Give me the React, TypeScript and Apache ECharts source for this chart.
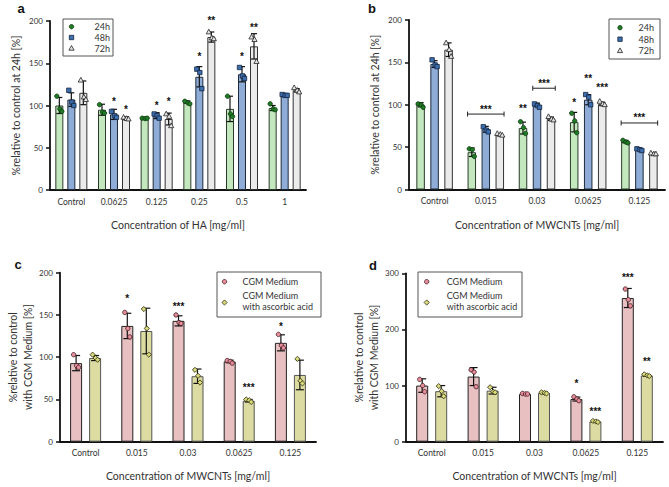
import React, { useEffect, useRef } from "react";
import * as echarts from "echarts";

// ---------- categories ----------
const catsA = ["Control", "0.0625", "0.125", "0.25", "0.5", "1"];
const catsB = ["Control", "0.015", "0.03", "0.0625", "0.125"];
const catsCD = ["Control", "0.015", "0.03", "0.0625", "0.125"];
const timeNames = ["24h", "48h", "72h"];
const mediumNames = ["CGM Medium", "CGM Medium with ascorbic acid"];

// ---------- panel a (HA) ----------
const a24Mean = [100, 95, 85, 104, 96, 97];
const a24Sd = [9.5, 6.5, 1, 1.5, 15, 3];
const a24Pts = [[111, 96, 93], [101, 92, 91], [85, 84.5, 85], [105, 103, 102], [111, 90, 87], [102, 96, 95]];
const a48Mean = [107, 89.5, 88, 134, 137, 112];
const a48Sd = [8, 6, 3.5, 12, 9, 1.5];
const a48Pts = [[118, 104, 100], [93, 88, 86], [90, 88, 85], [143, 139, 120], [145, 135, 132], [113, 112, 112]];
const a72Mean = [115, 85, 84, 181, 170, 118];
const a72Sd = [14, 1.5, 7, 6, 15, 2];
const a72Pts = [[130, 110, 107], [86, 84.5, 84], [90, 87, 76], [187, 180, 179], [181, 178, 152], [121, 118, 116]];
// [category, group, y, label]
const starsA: [number, number, number, string][] = [
  [1, 1, 108, "*"], [1, 2, 98.5, "*"],
  [2, 1, 102.5, "*"], [2, 2, 107.5, "*"],
  [3, 1, 161.5, "*"], [3, 2, 203, "**"],
  [4, 1, 161.5, "*"], [4, 2, 195.5, "**"],
];

// ---------- panel b (MWCNTs) ----------
const b24Mean = [100, 44, 72.5, 79.5, 56.5];
const b24Sd = [2.5, 5, 7, 11.5, 1.5];
const b24Pts = [[101, 100, 97], [48, 47, 39], [80, 73, 66], [90, 81, 67], [58, 56, 55]];
const b48Mean = [148, 71, 100, 106, 47.5];
const b48Sd = [4, 3.5, 2, 6, 1];
const b48Pts = [[153, 147, 145], [74, 70, 68], [101, 99, 97], [112, 109, 100], [48, 47, 46]];
const b72Mean = [165, 64.5, 83.5, 101, 42];
const b72Sd = [8, 1, 2, 2, 1];
const b72Pts = [[173, 165, 157], [66, 65, 64], [86, 83, 82], [104, 101, 100], [43, 42, 42]];
// [category, fromGroup, toGroup, bracketY (null = none), labelY, label]
const annB: [number, number, number, number | null, number, string][] = [
  [1, 0, 2, 89, 97, "***"],
  [2, 0, 0, null, 98, "**"],
  [2, 1, 2, 119.5, 128, "***"],
  [3, 0, 0, null, 106, "*"],
  [3, 1, 1, null, 134, "**"],
  [3, 2, 2, null, 123, "***"],
  [4, 0, 2, 78.5, 87.5, "***"],
];

// ---------- panel c ----------
const cCgmMean = [93, 137, 143, 95, 117];
const cCgmSd = [9, 15, 6, 1.5, 9.5];
const cCgmPts = [[103, 90, 88], [153, 134, 124], [150, 141, 140], [96, 95, 93], [127, 114, 111]];
const cAscMean = [99, 131, 77.5, 48.5, 79];
const cAscSd = [3, 27, 8.5, 1.5, 17.5];
const cAscPts = [[103, 99, 97], [157, 134, 103], [85, 78, 70], [50, 49, 47], [98, 72, 69]];
const starsC: [number, number, number, string][] = [
  [1, 0, 172, "*"], [2, 0, 163.5, "***"], [3, 1, 67, "***"], [4, 0, 139, "*"],
];

// ---------- panel d ----------
const dCgmMean = [100, 116, 85, 76, 256];
const dCgmSd = [12, 16, 1, 3.5, 17];
const dCgmPts = [[111, 100, 89], [128, 124, 98], [86, 85, 85], [80, 76, 73], [272, 253, 242]];
const dAscMean = [90, 91, 87, 36, 118];
const dAscSd = [10, 6, 1.5, 1, 1.5];
const dAscPts = [[99, 90, 81], [97, 89, 88], [88, 87, 86], [37, 36, 35], [120, 118, 117]];
const starsD: [number, number, number, string][] = [
  [3, 0, 108.5, "*"], [3, 1, 58, "***"], [4, 0, 297, "***"], [4, 1, 147, "**"],
];

const FONT = "Lato, 'Open Sans', sans-serif";
const TXT = "#333";

type Marker = "circle" | "square" | "triangle" | "diamond";

function markerShape(m: Marker, x: number, y: number, fill: string, stroke: string) {
  const r = 2.2;
  if (m === "circle") return { type: "circle", shape: { cx: x, cy: y, r }, style: { fill, stroke, lineWidth: 0.8 } };
  if (m === "square") return { type: "rect", shape: { x: x - r, y: y - r, width: 2 * r, height: 2 * r }, style: { fill, stroke, lineWidth: 0.8 } };
  if (m === "triangle")
    return { type: "polygon", shape: { points: [[x, y - 2.8], [x - 2.6, y + 1.9], [x + 2.6, y + 1.9]] }, style: { fill, stroke, lineWidth: 0.8 } };
  return { type: "polygon", shape: { points: [[x, y - 2.6], [x + 2.6, y], [x, y + 2.6], [x - 2.6, y]] }, style: { fill, stroke, lineWidth: 0.8 } };
}

interface Group {
  name: string; mean: number[]; sd: number[]; pts: number[][];
  bar: string; border: string; marker: Marker; mFill: string; mStroke: string;
}

function panelSeries(gi: number, groups: Group[], bw: number, gap: number, capW: number) {
  const n = groups.length;
  const out: any[] = [];
  groups.forEach((g) => {
    out.push({
      type: "bar", name: g.name, xAxisIndex: gi, yAxisIndex: gi,
      data: g.mean, barWidth: bw, barGap: `${(gap / bw) * 100}%`,
      itemStyle: { color: g.bar, borderColor: g.border, borderWidth: 1 },
      silent: true,
    });
  });
  groups.forEach((g, k) => {
    const off = (k - (n - 1) / 2) * (bw + gap);
    out.push({
      type: "custom", name: g.name, xAxisIndex: gi, yAxisIndex: gi, z: 5, silent: true,
      data: g.mean.map((m, i) => [i, m, g.sd[i], ...g.pts[i]]),
      encode: { x: 0, y: 1 },
      renderItem: (params: any, api: any) => {
        const cat = api.value(0), m = api.value(1), s = api.value(2);
        const top = api.coord([cat, m + s]);
        const bot = api.coord([cat, m - s]);
        const x = top[0] + off;
        const ls = { stroke: "#111", lineWidth: 1.2 };
        const children: any[] = [
          { type: "line", shape: { x1: x, y1: top[1], x2: x, y2: bot[1] }, style: ls },
          { type: "line", shape: { x1: x - capW / 2, y1: top[1], x2: x + capW / 2, y2: top[1] }, style: ls },
          { type: "line", shape: { x1: x - capW / 2, y1: bot[1], x2: x + capW / 2, y2: bot[1] }, style: ls },
        ];
        const jit = [-2.5, 0.5, 2.5];
        for (let j = 0; j < 3; j++) {
          const p = api.coord([cat, api.value(3 + j)]);
          children.push(markerShape(g.marker, x + jit[j], p[1], g.mFill, g.mStroke));
        }
        return { type: "group", children };
      },
    });
  });
  return out;
}

function annSeries(gi: number, n: number, bw: number, gap: number, items: [number, number, number, number | null, number, string][]) {
  return {
    type: "custom", xAxisIndex: gi, yAxisIndex: gi, z: 6, silent: true,
    data: items.map((it) => [it[0], it[4]]),
    encode: { x: 0, y: 1 },
    renderItem: (params: any, api: any) => {
      const it = items[params.dataIndex];
      const c = api.coord([it[0], it[4]]);
      const x0 = c[0] + (it[1] - (n - 1) / 2) * (bw + gap);
      const x1 = c[0] + (it[2] - (n - 1) / 2) * (bw + gap);
      const children: any[] = [
        {
          type: "text", x: (x0 + x1) / 2, y: c[1] + 2.5,
          style: { text: it[5], fill: "#111", fontSize: 10, fontWeight: "bold", fontFamily: "Arial, sans-serif", align: "center", verticalAlign: "middle" },
        },
      ];
      if (it[3] !== null) {
        const b = api.coord([it[0], it[3]]);
        const xl = x0 - bw / 2, xr = x1 + bw / 2;
        const ls = { stroke: "#222", lineWidth: 1 };
        children.push({ type: "line", shape: { x1: xl, y1: b[1], x2: xr, y2: b[1] }, style: ls });
        children.push({ type: "line", shape: { x1: xl, y1: b[1] - 2.5, x2: xl, y2: b[1] + 2.5 }, style: ls });
        children.push({ type: "line", shape: { x1: xr, y1: b[1] - 2.5, x2: xr, y2: b[1] + 2.5 }, style: ls });
      }
      return { type: "group", children };
    },
  };
}

function starItems(st: [number, number, number, string][]): [number, number, number, number | null, number, string][] {
  return st.map((s) => [s[0], s[1], s[1], null, s[2], s[3]]);
}

function xAxis(gi: number, cats: string[], name: string, nameGap: number) {
  return {
    type: "category", gridIndex: gi, data: cats, name, nameLocation: "middle", nameGap,
    nameTextStyle: { fontSize: 10.5, color: TXT, fontFamily: FONT },
    axisLine: { lineStyle: { color: "#111", width: 1.8 } },
    axisTick: { alignWithLabel: true, length: 4, lineStyle: { color: "#111", width: 1.5 } },
    axisLabel: { fontSize: 8.5, color: TXT, fontFamily: FONT, margin: 7 },
  };
}

function yAxis(gi: number, max: number, interval: number, name: string, nameGap: number) {
  return {
    type: "value", gridIndex: gi, min: 0, max, interval, name, nameLocation: "middle", nameGap,
    nameTextStyle: { fontSize: 10.5, color: TXT, fontFamily: FONT, lineHeight: 15 },
    axisLine: { show: true, lineStyle: { color: "#111", width: 1.8 } },
    axisTick: { show: true, length: 4, lineStyle: { color: "#111", width: 1.5 } },
    axisLabel: { fontSize: 8, color: TXT, fontFamily: FONT, margin: 7 },
    splitLine: { show: false },
  };
}

const GREEN = { bar: "#c4e8be", border: "#2a3a2a", marker: "circle" as Marker, mFill: "#1f7a24", mStroke: "#0f3a12" };
const BLUE = { bar: "#8eacd6", border: "#1e2a3a", marker: "square" as Marker, mFill: "#3d6fae", mStroke: "#142540" };
const GREY = { bar: "#ebebeb", border: "#333", marker: "triangle" as Marker, mFill: "#e6e6e6", mStroke: "#222" };
const PINK = { bar: "#e8c0c2", border: "#222", marker: "circle" as Marker, mFill: "#e88c9a", mStroke: "#3a1a1e" };
const YEL = { bar: "#dcdca2", border: "#555", marker: "diamond" as Marker, mFill: "#d9d97a", mStroke: "#2a2a10" };

function legendGraphics(x0: number, y0: number, w: number, h: number, items: { marker: Marker; fill: string; stroke: string; mx: number; my: number; texts: { t: string; x: number; y: number; align: string }[] }[]) {
  const els: any[] = [
    { type: "rect", shape: { x: x0, y: y0, width: w, height: h }, style: { fill: "#fff", stroke: "#555", lineWidth: 1 }, z: 10 },
  ];
  items.forEach((it) => {
    els.push({ ...markerShape(it.marker, it.mx, it.my, it.fill, it.stroke), z: 11 });
    it.texts.forEach((t) => {
      els.push({ type: "text", x: t.x, y: t.y, z: 11, style: { text: t.t, fill: TXT, fontSize: 9, fontFamily: FONT, align: t.align, verticalAlign: "middle" } });
    });
  });
  return els;
}

export default function App() {
  const ref = useRef<HTMLDivElement>(null);
  useEffect(() => {
    document.body.style.margin = "0";
    const chart = echarts.init(ref.current!, undefined, { renderer: "svg" });
    const gA: Group[] = [
      { name: timeNames[0], mean: a24Mean, sd: a24Sd, pts: a24Pts, ...GREEN },
      { name: timeNames[1], mean: a48Mean, sd: a48Sd, pts: a48Pts, ...BLUE },
      { name: timeNames[2], mean: a72Mean, sd: a72Sd, pts: a72Pts, ...GREY },
    ];
    const gB: Group[] = [
      { name: timeNames[0], mean: b24Mean, sd: b24Sd, pts: b24Pts, ...GREEN },
      { name: timeNames[1], mean: b48Mean, sd: b48Sd, pts: b48Pts, ...BLUE },
      { name: timeNames[2], mean: b72Mean, sd: b72Sd, pts: b72Pts, ...GREY },
    ];
    const gC: Group[] = [
      { name: mediumNames[0], mean: cCgmMean, sd: cCgmSd, pts: cCgmPts, ...PINK },
      { name: mediumNames[1], mean: cAscMean, sd: cAscSd, pts: cAscPts, ...YEL },
    ];
    const gD: Group[] = [
      { name: mediumNames[0], mean: dCgmMean, sd: dCgmSd, pts: dCgmPts, ...PINK },
      { name: mediumNames[1], mean: dAscMean, sd: dAscSd, pts: dAscPts, ...YEL },
    ];
    const bwA = 8, gapA = 4, bwB = 8.5, gapB = 5.5, bwC = 12, gapC = 7;

    const letters = [
      { t: "a", x: 21, y: 8 }, { t: "b", x: 372, y: 8 }, { t: "c", x: 18, y: 264 }, { t: "d", x: 373, y: 265 },
    ].map((l) => ({ type: "text", x: l.x, y: l.y, style: { text: l.t, fill: "#111", fontSize: 13, fontWeight: "bold", fontFamily: "Arial, sans-serif", align: "center", verticalAlign: "middle" } }));

    const legA = legendGraphics(63, 19, 50, 37, timeNames.map((t, i) => {
      const st = [GREEN, BLUE, GREY][i];
      const y = [26.7, 37.5, 48.3][i];
      return { marker: st.marker, fill: st.mFill, stroke: st.mStroke, mx: 71.5, my: y, texts: [{ t, x: 110, y, align: "right" }] };
    }));
    const legB = legendGraphics(609, 19, 51, 40, timeNames.map((t, i) => {
      const st = [GREEN, BLUE, GREY][i];
      const y = [27.7, 39.2, 50.7][i];
      return { marker: st.marker, fill: st.mFill, stroke: st.mStroke, mx: 620, my: y, texts: [{ t, x: 654, y, align: "right" }] };
    }));
    const medLeg = (x0: number, mx: number, tx: number) =>
      legendGraphics(x0, 272, 104, 45, [
        { marker: PINK.marker, fill: PINK.mFill, stroke: PINK.mStroke, mx, my: 281.7, texts: [{ t: "CGM Medium", x: tx, y: 281.7, align: "left" }] },
        { marker: YEL.marker, fill: YEL.mFill, stroke: YEL.mStroke, mx, my: 302.5, texts: [{ t: "CGM Medium", x: tx, y: 295, align: "left" }, { t: "with ascorbic acid", x: tx, y: 306.5, align: "left" }] },
      ]);
    const legC = medLeg(217, 224.5, 242.5);
    const legD = medLeg(418, 426.7, 446.7);

    chart.setOption({
      animation: false,
      textStyle: { fontFamily: FONT },
      grid: [
        { left: 50, top: 21, width: 256, height: 169 },
        { left: 409, top: 20, width: 256, height: 169.5 },
        { left: 60, top: 272.7, width: 256, height: 169 },
        { left: 406, top: 273.3, width: 257, height: 168.4 },
      ],
      xAxis: [
        xAxis(0, catsA, "Concentration of HA [mg/ml]", 29),
        xAxis(1, catsB, "Concentration of MWCNTs [mg/ml]", 30),
        xAxis(2, catsCD, "Concentration of MWCNTs [mg/ml]", 29),
        xAxis(3, catsCD, "Concentration of MWCNTs [mg/ml]", 29),
      ],
      yAxis: [
        yAxis(0, 200, 50, "%relative to control at 24h [%]", 27),
        yAxis(1, 200, 50, "%relative to control at 24h [%]", 27),
        yAxis(2, 200, 50, "%relative to control\nwith CGM Medium [%]", 25),
        yAxis(3, 300, 100, "%relative to control\nwith CGM Medium [%]", 25),
      ],
      series: [
        ...panelSeries(0, gA, bwA, gapA, 6),
        ...panelSeries(1, gB, bwB, gapB, 6),
        ...panelSeries(2, gC, bwC, gapC, 8),
        ...panelSeries(3, gD, bwC, gapC, 8),
        annSeries(0, 3, bwA, gapA, starItems(starsA)),
        annSeries(1, 3, bwB, gapB, annB),
        annSeries(2, 2, bwC, gapC, starItems(starsC)),
        annSeries(3, 2, bwC, gapC, starItems(starsD)),
      ],
      graphic: [...letters, ...legA, ...legB, ...legC, ...legD],
    });
    return () => chart.dispose();
  }, []);
  return <div ref={ref} style={{ width: 669, height: 487 }} />;
}
